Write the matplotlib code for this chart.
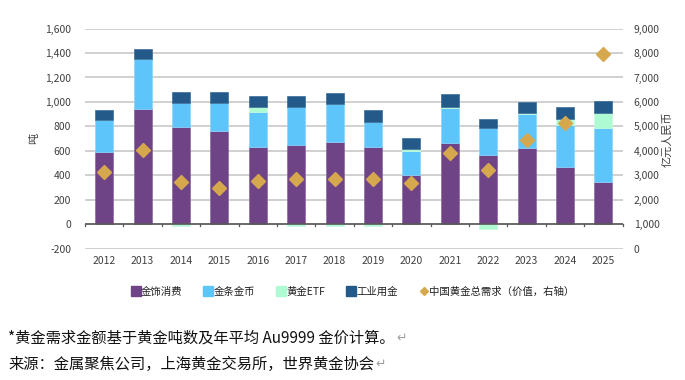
import matplotlib
matplotlib.use('Agg')
import matplotlib.pyplot as plt
import matplotlib.ticker as mtick
import matplotlib.transforms as mtrans
from matplotlib.lines import Line2D
import numpy as np

plt.rcParams['font.family'] = ['Noto Sans CJK SC', 'DejaVu Sans']

# ── Data (tonnes, right axis in 亿元人民币) ──────────────────
years = ['2012', '2013', '2014', '2015', '2016', '2017', '2018',
         '2019', '2020', '2021', '2022', '2023', '2024', '2025']
jewelry    = [589, 939, 797, 762, 632, 651, 675, 632, 401, 665, 567, 621, 467, 344]
bar_coin   = [260, 415, 193, 228, 282, 306, 307, 203, 196, 284, 217, 282, 341, 440]
etf        = [0, 0, -15, 0, 41, -15, -15, -15, 19, 11, -35, 8, 55, 127]
industrial = [84, 81, 95, 95, 97, 95, 92, 98, 89, 103, 73, 87, 92, 98]
value_rmb  = [3150, 4040, 2720, 2490, 2780, 2870, 2870, 2870, 2710, 3930, 3210, 4430, 5160, 7950]
labels = ['金饰消费', '金条金币', '黄金ETF', '工业用金', '中国黄金总需求（价值，右轴）']

PURPLE = '#6E4487'
LBLUE  = '#5EC5FB'
MINT   = '#AEFAD2'
DBLUE  = '#235A8A'
GOLD   = '#D6A84E'
GRID   = '#C8C8C8'
TXT    = '#404040'

fig = plt.figure(figsize=(6.85, 3.8), dpi=100)
ax = fig.add_axes([0.124, 0.345, 0.785, 0.58])
x = np.arange(len(years))
w = 0.47

jw = np.array(jewelry, float)
bc = np.array(bar_coin, float)
ef = np.array(etf, float)
ind = np.array(industrial, float)

ax.bar(x, jw, w, color=PURPLE, edgecolor='#8C6AA0', lw=0.5, zorder=3)
ax.bar(x, bc, w, bottom=jw, color=LBLUE, edgecolor='#8AD6FC', lw=0.5, zorder=3)
etf_bottom = np.where(ef >= 0, jw + bc, 0)
ax.bar(x, ef, w, bottom=etf_bottom, color=MINT, edgecolor='#C8FBE0', lw=0.5, zorder=3)
ind_bottom = jw + bc + np.clip(ef, 0, None)
ax.bar(x, ind, w, bottom=ind_bottom, color=DBLUE, edgecolor='#3C6E99', lw=0.5, zorder=3)

ax.set_xlim(-0.5, len(years) - 0.5)
ax.set_ylim(-200, 1600)
ax.set_yticks(range(-200, 1601, 200))
ax.yaxis.set_major_formatter(mtick.FuncFormatter(lambda v, _: f'{v:,.0f}'))
ax.grid(axis='y', color=GRID, lw=1.2, zorder=0)
ax.axhline(0, color='#595959', lw=1.2, zorder=4)
for s in ax.spines.values():
    s.set_visible(False)
ax.tick_params(axis='y', length=0, labelsize=7.5, labelcolor=TXT, pad=10)

# category boundary ticks on the zero line, year labels below the -200 line
ax.set_xticks([])
for b in np.arange(-0.5, len(years), 1.0):
    ax.plot([b, b], [0, -12], color='#595959', lw=0.9, zorder=4, clip_on=False)
xtrans = mtrans.blended_transform_factory(ax.transData, ax.transAxes)
for xi, yr in zip(x, years):
    ax.text(xi, -0.055, yr, transform=xtrans, ha='center', va='center',
            fontsize=7.5, color=TXT)
ax.set_ylabel('吨', fontsize=8, color=TXT, labelpad=4)

# right axis (value)
ax2 = ax.twinx()
ax2.set_ylim(0, 9000)
ax2.set_yticks(range(0, 9001, 1000))
ax2.yaxis.set_major_formatter(mtick.FuncFormatter(lambda v, _: f'{v:,.0f}'))
ax2.plot(x, value_rmb, 'D', color=GOLD, ms=6.8, mec=GOLD, zorder=5)
for s in ax2.spines.values():
    s.set_visible(False)
ax2.tick_params(axis='y', length=0, labelsize=7.5, labelcolor=TXT, pad=8)
ax2.set_ylabel('亿元人民币', fontsize=8, color=TXT, rotation=90, labelpad=2)

handles = [Line2D([], [], marker='s', ls='', color=c, ms=6.5) for c in (PURPLE, LBLUE, MINT, DBLUE)]
handles.append(Line2D([], [], marker='D', ls='', color=GOLD, ms=4.5))
fig.legend(handles, labels, loc='center', bbox_to_anchor=(0.516, 1 - 292 / 380),
           ncol=5, frameon=False, fontsize=7.5, handlelength=0.6, handletextpad=0.2,
           columnspacing=2.2, labelcolor='#202020')

# footnotes
renderer = fig.canvas.get_renderer()
notes = [('*黄金需求金额基于黄金吨数及年平均 Au9999 金价计算。', 338),
         ('来源：金属聚焦公司，上海黄金交易所，世界黄金协会', 364)]
for txt, ypx in notes:
    t = fig.text(8 / 685, 1 - ypx / 380, txt, fontsize=11, color='#111111',
                 ha='left', va='center')
    bb = t.get_window_extent(renderer)
    fig.text(bb.x1 / fig.bbox.width + 0.002, 1 - ypx / 380, '↵', fontsize=9,
             color='#A0A0A0', ha='left', va='center',
             family=['DejaVu Sans'])

fig.savefig('out.png', dpi=100)
